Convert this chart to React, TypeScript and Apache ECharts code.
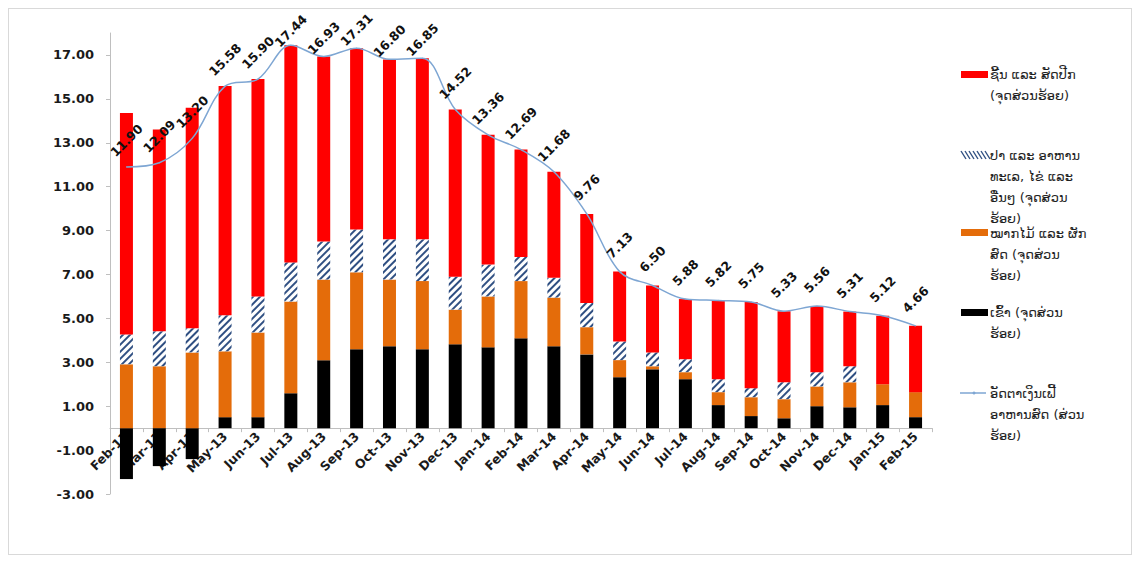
import React, { useEffect, useRef } from "react";
import * as echarts from "echarts";

const categories = [
  "Feb-13", "Mar-13", "Apr-13", "May-13", "Jun-13", "Jul-13", "Aug-13", "Sep-13", "Oct-13",
  "Nov-13", "Dec-13", "Jan-14", "Feb-14", "Mar-14", "Apr-14", "May-14", "Jun-14", "Jul-14",
  "Aug-14", "Sep-14", "Oct-14", "Nov-14", "Dec-14", "Jan-15", "Feb-15",
];

const rice = [-2.32, -1.73, -1.41, 0.5, 0.5, 1.59, 3.09, 3.59, 3.73, 3.59, 3.82, 3.68, 4.09, 3.73, 3.36, 2.32, 2.68, 2.23, 1.05, 0.55, 0.45, 1.0, 0.95, 1.05, 0.5];
const fruitsVeg = [2.91, 2.82, 3.45, 3.0, 3.86, 4.18, 3.68, 3.51, 3.04, 3.11, 1.58, 2.32, 2.61, 2.22, 1.24, 0.78, 0.14, 0.32, 0.59, 0.86, 0.87, 0.9, 1.14, 0.95, 1.14];
const fishEggs = [1.36, 1.59, 1.1, 1.64, 1.64, 1.78, 1.73, 1.95, 1.83, 1.9, 1.5, 1.45, 1.1, 0.9, 1.1, 0.85, 0.63, 0.59, 0.59, 0.41, 0.77, 0.65, 0.73, 0.0, 0.0];
const meatPoultry = [10.09, 9.19, 10.05, 10.44, 9.9, 9.89, 8.43, 8.26, 8.19, 8.25, 7.62, 5.91, 4.89, 4.83, 4.06, 3.18, 3.05, 2.74, 3.59, 3.93, 3.24, 3.01, 2.49, 3.12, 3.02];
const foodInflation = [11.9, 12.09, 13.2, 15.58, 15.9, 17.44, 16.93, 17.31, 16.8, 16.85, 14.52, 13.36, 12.69, 11.68, 9.76, 7.13, 6.5, 5.88, 5.82, 5.75, 5.33, 5.56, 5.31, 5.12, 4.66];

const yTicks = [-3, -1, 1, 3, 5, 7, 9, 11, 13, 15, 17];

const nameMeat = "ຊີ້ນ ແລະ ສັດປີກ (ຈຸດສ່ວນຮ້ອຍ)";
const nameFish = "ປາ ແລະ ອາຫານທະເລ, ໄຂ່ ແລະ ອື່ນໆ (ຈຸດສ່ວນຮ້ອຍ)";
const nameFruit = "ໝາກໄມ້ ແລະ ຜັກສົດ (ຈຸດສ່ວນຮ້ອຍ)";
const nameRice = "ເຂົ້າ (ຈຸດສ່ວນຮ້ອຍ)";
const nameLine = "ອັດຕາເງິນເຟີ້ ອາຫານສົດ (ສ່ວນຮ້ອຍ)";

const legendLines = {
  meat: ["ຊີ້ນ ແລະ ສັດປີກ", "(ຈຸດສ່ວນຮ້ອຍ)"],
  fish: ["ປາ ແລະ ອາຫານ", "ທະເລ, ໄຂ່ ແລະ", "ອື່ນໆ (ຈຸດສ່ວນ", "ຮ້ອຍ)"],
  fruit: ["ໝາກໄມ້ ແລະ ຜັກ", "ສົດ (ຈຸດສ່ວນ", "ຮ້ອຍ)"],
  rice: ["ເຂົ້າ (ຈຸດສ່ວນ", "ຮ້ອຍ)"],
  line: ["ອັດຕາເງິນເຟີ້", "ອາຫານສົດ (ສ່ວນ", "ຮ້ອຍ)"],
};

const RED = "#ff0000";
const ORANGE = "#e46c0a";
const BLACK = "#000000";
const NAVY = "#2f4f82";
const LINE = "#7ea6d3";
const LAO_FONT = "DejaVu Sans";
const NUM_FONT = "DejaVu Sans";

function legendText(x: number, yCenter: number, lines: string[]) {
  const lh = 21.3;
  return lines.map((t, i) => ({
    type: "text",
    x,
    y: yCenter + i * lh,
    style: {
      text: t,
      fontSize: 13,
      fontFamily: LAO_FONT,
      fill: "#1e1e1e",
      verticalAlign: "middle",
      align: "left",
    },
  }));
}

export default function App() {
  const ref = useRef<HTMLDivElement>(null);

  useEffect(() => {
    if (!ref.current) return;
    const chart = echarts.init(ref.current, null, { renderer: "svg" });

    const hatchLines = [];
    for (let i = 0; i < 7; i++) {
      hatchLines.push({
        type: "line",
        shape: { x1: 952 + i * 4, y1: 142, x2: 952 + i * 4 + 5, y2: 150 },
        style: { stroke: NAVY, lineWidth: 1.4 },
      });
    }

    const iconX = 952;
    const textX = 981;

    const gridTop = 24;
    const gridBottom = 60;
    const plotH = 545 - gridTop - gridBottom;
    const yMin = -3;
    const yMax = 18;
    const zeroOffset = -(plotH * (0 - yMin)) / (yMax - yMin);

    const lineData = foodInflation.map((v) => ({
      value: v,
      label: { distance: v > 17.4 ? 14 : v > 16.5 ? 18 : 26 },
    }));

    const option = {
      animation: false,
      backgroundColor: "#ffffff",
      grid: { left: 101, right: 199, top: gridTop, bottom: gridBottom, containLabel: false },
      xAxis: {
        type: "category",
        data: categories,
        boundaryGap: true,
        offset: zeroOffset,
        axisLine: { show: true, onZero: false, lineStyle: { color: "#bfbfbf", width: 1 } },
        axisTick: { show: true, length: 4, lineStyle: { color: "#bfbfbf" } },
        axisLabel: {
          interval: 0,
          rotate: 45,
          margin: 6,
          fontFamily: NUM_FONT,
          fontWeight: "bold",
          fontSize: 12.5,
          color: "#1a1a1a",
        },
        splitLine: { show: false },
      },
      yAxis: {
        type: "value",
        min: yMin,
        max: yMax,
        splitLine: { show: false },
        axisLine: { show: true, lineStyle: { color: "#bfbfbf" } },
        axisTick: { show: true, length: 4, customValues: yTicks, lineStyle: { color: "#bfbfbf" } },
        axisLabel: {
          customValues: yTicks,
          formatter: (v: number) => v.toFixed(2),
          margin: 16,
          fontFamily: NUM_FONT,
          fontWeight: "bold",
          fontSize: 13,
          color: "#1a1a1a",
        },
      },
      series: [
        {
          name: nameRice,
          type: "bar",
          stack: "food",
          barWidth: 13,
          data: rice,
          itemStyle: { color: BLACK },
        },
        {
          name: nameFruit,
          type: "bar",
          stack: "food",
          barWidth: 13,
          data: fruitsVeg,
          itemStyle: { color: ORANGE },
        },
        {
          name: nameFish,
          type: "bar",
          stack: "food",
          barWidth: 13,
          data: fishEggs,
          itemStyle: {
            color: "#ffffff",
            decal: {
              symbol: "rect",
              symbolSize: 1,
              dashArrayX: [1, 0],
              dashArrayY: [2, 2.5],
              rotation: -Math.PI / 4,
              color: NAVY,
            },
          },
        },
        {
          name: nameMeat,
          type: "bar",
          stack: "food",
          barWidth: 13,
          data: meatPoultry,
          itemStyle: { color: RED },
        },
        {
          name: nameLine,
          type: "line",
          data: lineData,
          smooth: 0.35,
          symbol: "circle",
          symbolSize: 1,
          z: 5,
          lineStyle: { color: LINE, width: 1.5 },
          itemStyle: { color: LINE },
          label: {
            show: true,
            position: "top",
            distance: 26,
            rotate: 45,
            align: "center",
            verticalAlign: "middle",
            fontFamily: NUM_FONT,
            fontWeight: "bold",
            fontSize: 12.5,
            color: "#111111",
            formatter: (p: any) => Number(p.value).toFixed(2),
          },
        },
      ],
      graphic: [
        { type: "rect", shape: { x: iconX, y: 62, width: 27, height: 7 }, style: { fill: RED } },
        ...legendText(textX, 65, legendLines.meat),
        { type: "group", children: hatchLines },
        ...legendText(textX, 146, legendLines.fish),
        { type: "rect", shape: { x: iconX, y: 220, width: 27, height: 7 }, style: { fill: ORANGE } },
        ...legendText(textX, 224, legendLines.fruit),
        { type: "rect", shape: { x: iconX, y: 300, width: 27, height: 7 }, style: { fill: BLACK } },
        ...legendText(textX, 303, legendLines.rice),
        {
          type: "line",
          shape: { x1: iconX - 1, y1: 384, x2: iconX + 25, y2: 384 },
          style: { stroke: LINE, lineWidth: 1.5 },
        },
        { type: "circle", shape: { cx: iconX + 13, cy: 384, r: 1.5 }, style: { fill: LINE } },
        ...legendText(textX, 384, legendLines.line),
      ],
    };

    chart.setOption(option as any);
    return () => chart.dispose();
  }, []);

  return (
    <div
      style={{
        width: 1124,
        height: 547,
        border: "1px solid #d9d9d9",
        boxSizing: "border-box",
        background: "#ffffff",
      }}
    >
      <div ref={ref} style={{ width: 1122, height: 545 }} />
    </div>
  );
}
